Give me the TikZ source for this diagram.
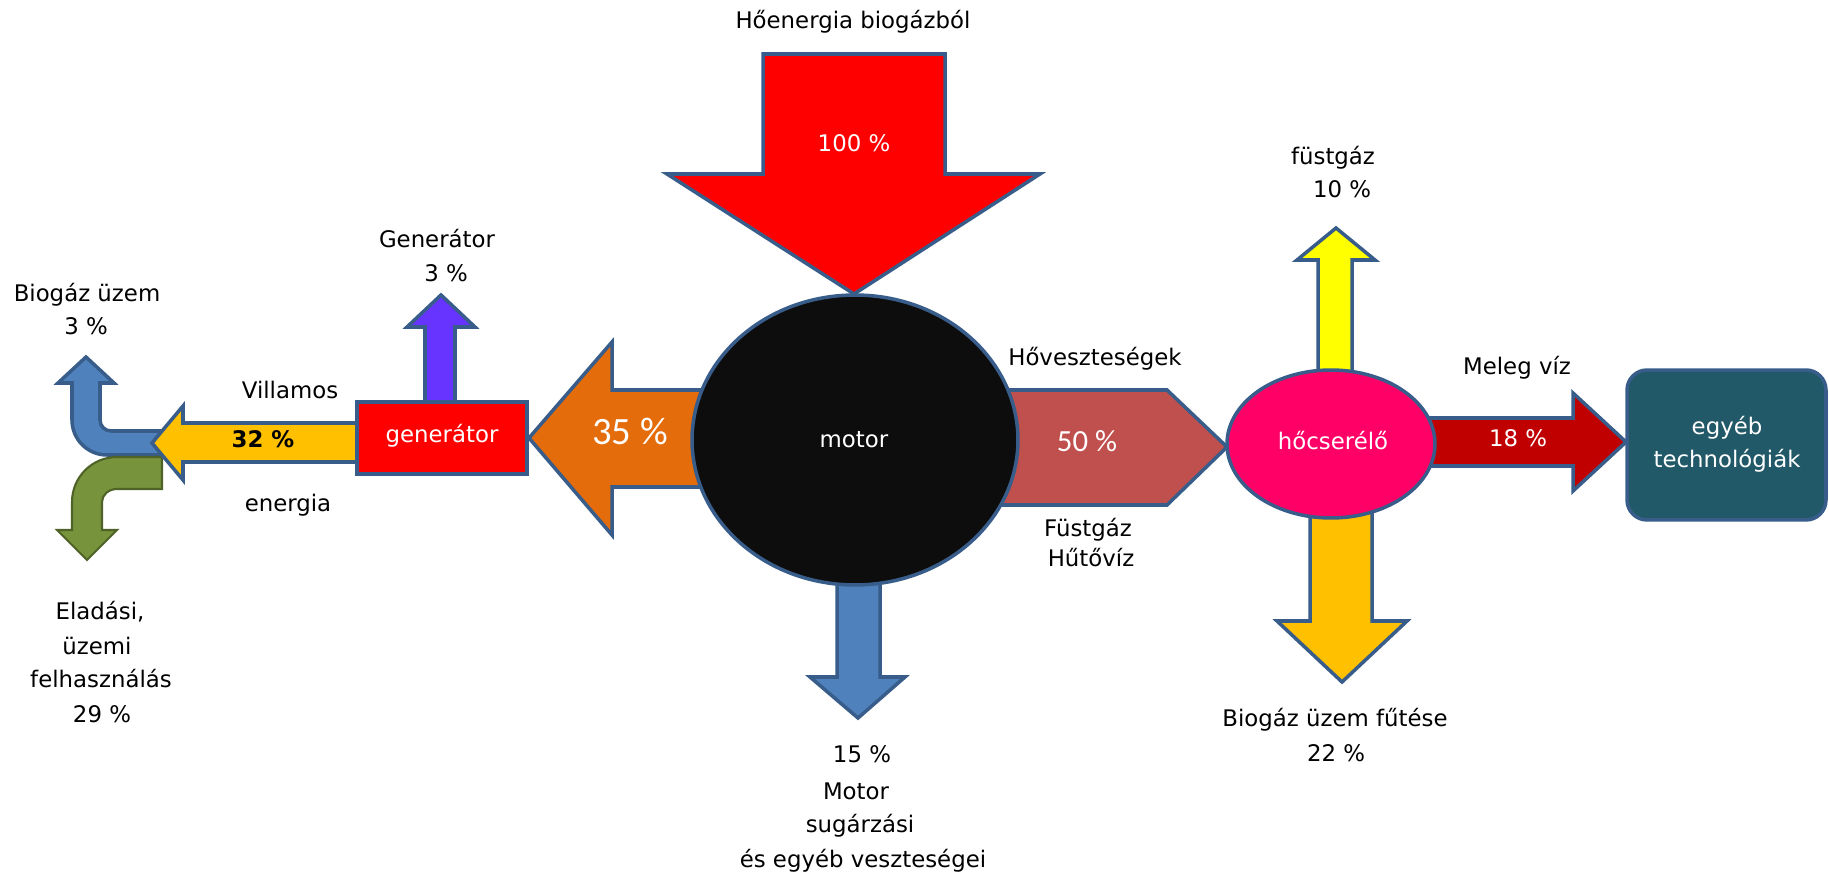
\documentclass[tikz,border=0pt]{standalone}
\usepackage{fontspec}
\usetikzlibrary{shapes.geometric}
\setmainfont{DejaVu Sans}
\newfontfamily\calib{Carlito}
\definecolor{bord}{HTML}{385D8A}
\definecolor{cred}{HTML}{FF0000}
\definecolor{corange}{HTML}{E46C0A}
\definecolor{cbrown}{HTML}{C0504D}
\definecolor{cpink}{HTML}{FF0066}
\definecolor{cyellow}{HTML}{FFFF00}
\definecolor{cgold}{HTML}{FFC000}
\definecolor{cdarkred}{HTML}{C00000}
\definecolor{cteal}{HTML}{215968}
\definecolor{cblue}{HTML}{4F81BD}
\definecolor{cpurple}{HTML}{6633FF}
\definecolor{cgreen}{HTML}{77933C}
\definecolor{cgreenb}{HTML}{4F6228}
\definecolor{cmotor}{HTML}{0D0D0D}
\tikzset{
  shp/.style={draw=bord, line width=2pt, line join=miter},
  lbl/.style={inner sep=0pt, font=\fontsize{13}{16}\selectfont, text height=0.72em, text depth=0.2em},
  wlbl/.style={lbl, text=white},
}
\begin{document}
\begin{tikzpicture}[x=0.02cm, y=-0.02cm]
\useasboundingbox (0,0) rectangle (1829,881);

% ---- arrows behind the motor
\draw[shp, fill=cred] (763,54) -- (945,54) -- (945,174) -- (1040,174) -- (854,294) -- (667,174) -- (763,174) -- cycle;
\draw[shp, fill=cblue] (837,560) -- (880,560) -- (880,677) -- (905,677) -- (858,718) -- (810,677) -- (837,677) -- cycle;
\draw[shp, fill=corange] (720,390) -- (612,390) -- (612,342) -- (529,438) -- (612,535) -- (612,487) -- (720,487) -- cycle;
\draw[shp, fill=cbrown] (990,390) -- (1167,390) -- (1227,447) -- (1167,505) -- (990,505) -- cycle;
\node[shp, fill=cmotor, ellipse, minimum width=6.52cm, minimum height=5.8cm, inner sep=0pt] (motor) at (855,440) {};

% ---- generator branch
\draw[shp, fill=cpurple] (425,410) -- (425,327) -- (407,327) -- (441,295) -- (475,327) -- (455,327) -- (455,410) -- cycle;
\node[shp, fill=cred, rectangle, minimum width=3.4cm, minimum height=1.44cm, inner sep=0pt] (gen) at (442,438) {};

% bent blue arrow (up)
\draw[shp, fill=cblue] (165,431) -- (111,431) .. controls (104.9,431) and (100,426.1) .. (100,420)
  -- (100,383) -- (114,383) -- (86,357) -- (58,383) -- (72,383) -- (72,420)
  .. controls (72,439.3) and (87.7,455) .. (107,455) -- (165,455) -- cycle;
% bent green arrow (down)
\draw[draw=cgreenb, line width=1.2pt, fill=cgreen] (162,457) -- (117,457) .. controls (92.1,457) and (72,477.1) .. (72,502)
  -- (72,530) -- (57,530) -- (87,560) -- (117,530) -- (102,530) -- (102,502)
  .. controls (102,494.8) and (108.7,489) .. (117,489) -- (162,489) -- cycle;
% yellow 32 % arrow
\draw[shp, fill=cgold] (357,423) -- (183,423) -- (183,406) -- (152,443) -- (183,480) -- (183,462) -- (357,462) -- cycle;

% ---- heat exchanger branch
\draw[shp, fill=cyellow] (1318,420) -- (1318,260) -- (1297,260) -- (1336,228) -- (1375,260) -- (1352,260) -- (1352,420) -- cycle;
\draw[shp, fill=cgold] (1310,480) -- (1310,621) -- (1277,621) -- (1342,682) -- (1407,621) -- (1372,621) -- (1372,480) -- cycle;
\draw[shp, fill=cdarkred] (1410,418) -- (1573,418) -- (1573,393) -- (1626,442) -- (1573,491) -- (1573,466) -- (1410,466) -- cycle;
\node[shp, fill=cpink, ellipse, minimum width=4.16cm, minimum height=2.96cm, inner sep=0pt] (hx) at (1331,444) {};
\node[shp, fill=cteal, rectangle, rounded corners=0.4cm, minimum width=3.98cm, minimum height=3cm, inner sep=0pt] (box) at (1726.5,445) {};

% ---- labels
\node[lbl] (t1) at (853,24) {Hőenergia biogázból};
\node[wlbl] (t2) at (854,147) {100 \%};
\node[lbl] (t3) at (437,243) {Generátor};
\node[lbl] (t4) at (446,277) {3 \%};
\node[lbl] (t5) at (87,297) {Biogáz üzem};
\node[lbl] (t6) at (86,330) {3 \%};
\node[lbl] (t7) at (290,394) {Villamos};
\node[lbl] (t8) at (288,507) {energia};
\node[lbl, font=\fontsize{13}{16}\selectfont\bfseries] (t9) at (263,443) {32 \%};
\node[wlbl] (t10) at (442,438) {generátor};
\node[wlbl, font=\calib\fontsize{22}{26}\selectfont] (t11) at (630,440) {35 \%};
\node[wlbl] (t12) at (854,443) {motor};
\node[lbl] (t13) at (1095,361) {Hőveszteségek};
\node[wlbl, font=\calib\fontsize{17.5}{20}\selectfont] (t14) at (1087,447) {50 \%};
\node[lbl] (t15) at (1088,532) {Füstgáz};
\node[lbl] (t16) at (1091,562) {Hűtővíz};
\node[wlbl] (t17) at (1333,445) {hőcserélő};
\node[lbl] (t18) at (1333,160) {füstgáz};
\node[lbl] (t19) at (1342,193) {10 \%};
\node[lbl] (t20) at (1517,370) {Meleg víz};
\node[wlbl] (t21) at (1518,442) {18 \%};
\node[wlbl] (t22) at (1727,430) {egyéb};
\node[wlbl] (t23) at (1727,463) {technológiák};
\node[lbl] (t24) at (1335,722) {Biogáz üzem fűtése};
\node[lbl] (t25) at (1336,757) {22 \%};
\node[lbl] (t26) at (862,758) {15 \%};
\node[lbl] (t27) at (856,795) {Motor};
\node[lbl] (t28) at (860,828) {sugárzási};
\node[lbl] (t29) at (863,863) {és egyéb veszteségei};
\node[lbl] (t30) at (100,615) {Eladási,};
\node[lbl] (t31) at (97,650) {üzemi};
\node[lbl] (t32) at (101,683) {felhasználás};
\node[lbl] (t33) at (102,718) {29 \%};
\end{tikzpicture}
\end{document}
